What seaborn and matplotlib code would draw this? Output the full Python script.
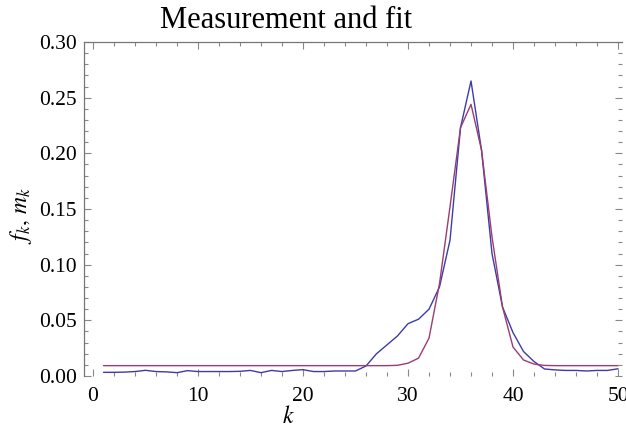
import matplotlib
matplotlib.use("Agg")
import matplotlib.pyplot as plt
from matplotlib.ticker import MultipleLocator
import numpy as np
import pandas as pd
import seaborn as sns

# k values and the two series
k = list(range(1, 51))
measured = [0.0033, 0.0033, 0.0035, 0.0040, 0.0051, 0.0040, 0.0037, 0.0030, 0.0048, 0.0040,
            0.0040, 0.0040, 0.0040, 0.0042, 0.0050, 0.0030, 0.0050, 0.0040, 0.0050, 0.0057,
            0.0040, 0.0040, 0.0045, 0.0045, 0.0045, 0.0090, 0.0200, 0.0280, 0.0360, 0.0470,
            0.0510, 0.0600, 0.0800, 0.1220, 0.2230, 0.2650, 0.2030, 0.1100, 0.0620, 0.0390,
            0.0220, 0.0130, 0.0063, 0.0055, 0.0050, 0.0050, 0.0045, 0.0050, 0.0050, 0.0065]
fitted = [0.0093] * 28 + [0.0096, 0.0115, 0.0160, 0.0340, 0.0830, 0.1520, 0.2230, 0.2440,
                          0.2030, 0.1250, 0.0620, 0.0260, 0.0144, 0.0107, 0.0095] + [0.0093] * 7

df = pd.DataFrame({"k": k, "measured": measured, "fitted": fitted})

sns.set_style("ticks")
plt.rcParams["font.family"] = ["Liberation Serif", "DejaVu Serif"]
plt.rcParams["mathtext.fontset"] = "stix"
plt.rcParams["text.color"] = "black"

fig = plt.figure(figsize=(6.26, 4.37), dpi=100)
ax = fig.add_axes([84 / 626, 61 / 437, 538 / 626, 334 / 437])

sns.lineplot(data=df, x="k", y="measured", color="#3c3ca8", linewidth=1.0, ax=ax)
sns.lineplot(data=df, x="k", y="fitted", color="#993d74", linewidth=1.0, ax=ax)

ax.set_xlim(-0.857, 50.38)
ax.set_ylim(0, 0.30)
ax.xaxis.set_major_locator(MultipleLocator(10))
ax.xaxis.set_minor_locator(MultipleLocator(2))
ax.yaxis.set_major_locator(MultipleLocator(0.05))
ax.yaxis.set_minor_locator(MultipleLocator(0.01))
ax.yaxis.set_major_formatter(plt.FormatStrFormatter("%.2f"))

ax.tick_params(which="both", direction="in", top=True, right=True, colors="#888888",
               labelcolor="black", labelsize=15.5, width=0.8)
ax.tick_params(which="major", length=5)
ax.tick_params(which="minor", length=3)
ax.tick_params(axis="x", pad=8)
ax.tick_params(axis="y", pad=5)

for side in ["bottom", "right"]:
    ax.spines[side].set_visible(False)
for side in ["left", "top"]:
    ax.spines[side].set_color("#777777")
    ax.spines[side].set_linewidth(0.9)

ax.set_xlabel("")
ax.set_ylabel("")
fig.text(0.46, 0.045, "$k$", ha="center", va="center", fontsize=17)
fig.text(0.034, 0.508, "$f_k,\\, m_k$", ha="center", va="center", rotation=90, fontsize=17)
fig.text(0.457, 0.952, "Measurement and fit", ha="center", va="center", fontsize=22)

fig.savefig("out.png", dpi=100)
